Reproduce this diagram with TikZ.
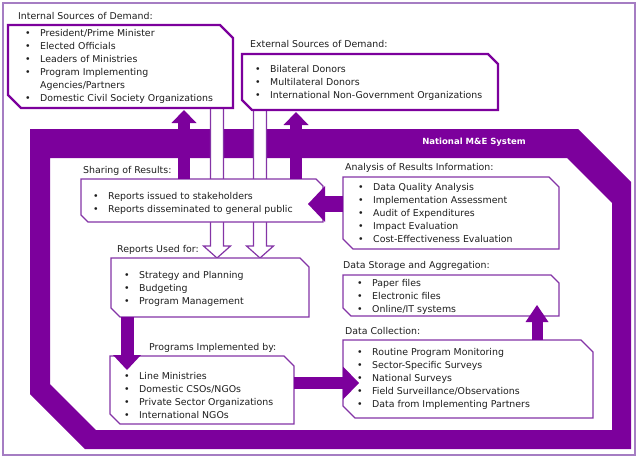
\documentclass[tikz,border=0pt]{standalone}
\usepackage{fontspec}
\setmainfont{DejaVu Sans}
\usetikzlibrary{arrows.meta,calc}

\definecolor{mepurple}{RGB}{124,0,156}
\definecolor{lnpurple}{RGB}{132,52,166}
\definecolor{framepurple}{RGB}{165,125,195}
\definecolor{txt}{RGB}{30,30,30}

\newcommand\itm[1]{\makebox[15pt][l]{\textbullet}\strut#1}
\newcommand\cnt[1]{\hspace*{15pt}\strut#1}
\newcommand\hollowarr[2]{%
  \filldraw[hollow] ($(#1)+(-6.5,0)$) -- ($(#2)+(-6.5,-12)$) -- ($(#2)+(-13.5,-12)$) -- (#2)
    -- ($(#2)+(13.5,-12)$) -- ($(#2)+(6.5,-12)$) -- ($(#1)+(6.5,0)$);}

\begin{document}
\begin{tikzpicture}[x=1pt,y=-1pt,
    box/.style={anchor=north west,inner sep=0,outer sep=0},
    lst/.style={anchor=west,align=left,inner sep=0,text=txt,font=\fontsize{9.4}{13}\selectfont},
    ttl/.style={anchor=west,inner sep=0,text=txt,text height=9.1pt,text depth=3.9pt,font=\fontsize{9.4}{13}\selectfont},
    hollow/.style={draw=lnpurple,fill=white,line width=1.2pt},
    fat/.style={draw=mepurple,line width=#1}]
    \useasboundingbox (0,0) rectangle (640,461);
    \draw[framepurple,line width=2] (3,3) rectangle (635,455);

    % the M&E system band
    \fill[mepurple,even odd rule]
        (30,129) -- (578,129) -- (631,182) -- (631,449) -- (85,449) -- (30,394) -- cycle
        (50,158) -- (567,158) -- (612,203) -- (612,430) -- (96,430) -- (50,384) -- cycle;
    \node[text=white,inner sep=0,font=\bfseries\fontsize{8.5}{10}\selectfont] (nat) at (474,142) {National M\&E System};

    % boxes
    \node[box,minimum width=225,minimum height=83] (int) at (8,25) {};
    \node[box,minimum width=256,minimum height=56] (ext) at (242,54) {};
    \node[box,minimum width=242,minimum height=43] (shr) at (81,179) {};
    \node[box,minimum width=198,minimum height=59] (use) at (111,258) {};
    \node[box,minimum width=216,minimum height=72] (ana) at (343,177) {};
    \node[box,minimum width=216,minimum height=41] (sto) at (343,275) {};
    \node[box,minimum width=250,minimum height=78] (col) at (343,340) {};
    \node[box,minimum width=184,minimum height=68] (prg) at (110,356) {};

    % reports flowing down
    \coordinate (h1) at ($(int.south west)+(209,0)$);
    \coordinate (h1t) at ($(use.north west)+(106,0)$);
    \coordinate (h2) at ($(ext.south west)+(18,0)$);
    \coordinate (h2t) at ($(use.north west)+(149,0)$);
    \hollowarr{h1}{h1t}
    \hollowarr{h2}{h2t}

    \foreach \b/\c/\w/\k in {int/13/2.4/mepurple,ext/10/2.4/mepurple,shr/7/1.2/lnpurple,use/9/1.2/lnpurple,
                             ana/10/1.2/lnpurple,sto/8/1.2/lnpurple,col/12/1.2/lnpurple,prg/10/1.2/lnpurple}
        \filldraw[draw=\k,fill=white,line width=\w pt]
            (\b.north west) -- ($(\b.north east)+(-\c,0)$) -- ($(\b.north east)+(0,\c)$)
            -- (\b.south east) -- ($(\b.south west)+(\c,0)$) -- ($(\b.south west)+(0,-\c)$) -- cycle;

    % titles
    \node[ttl] (intt) at (18,17) {Internal Sources of Demand:};
    \node[ttl] (extt) at (250,45) {External Sources of Demand:};
    \node[ttl] (shrt) at (83,171) {Sharing of Results:};
    \node[ttl] (anat) at (345,168) {Analysis of Results Information:};
    \node[ttl] (uset) at (117,250) {Reports Used for:};
    \node[ttl] (stot) at (343,266) {Data Storage and Aggregation:};
    \node[ttl] (colt) at (345,332) {Data Collection:};
    \node[ttl] (prgt) at (149,348) {Programs Implemented by:};

    % lists
    \node[lst] (intl) at (25,66.5) {\itm{President/Prime Minister}\\ \itm{Elected Officials}\\
        \itm{Leaders of Ministries}\\ \itm{Program Implementing}\\ \cnt{Agencies/Partners}\\
        \itm{Domestic Civil Society Organizations}};
    \node[lst] (extl) at (255,82.5) {\itm{Bilateral Donors}\\ \itm{Multilateral Donors}\\
        \itm{International Non-Government Organizations}};
    \node[lst] (shrl) at (93,203.5) {\itm{Reports issued to stakeholders}\\
        \itm{Reports disseminated to general public}};
    \node[lst] (usel) at (124,288.5) {\itm{Strategy and Planning}\\ \itm{Budgeting}\\ \itm{Program Management}};
    \node[lst] (anal) at (358,213.5) {\itm{Data Quality Analysis}\\ \itm{Implementation Assessment}\\
        \itm{Audit of Expenditures}\\ \itm{Impact Evaluation}\\ \itm{Cost-Effectiveness Evaluation}};
    \node[lst] (stol) at (357,296.5) {\itm{Paper files}\\ \itm{Electronic files}\\ \itm{Online/IT systems}};
    \node[lst] (coll) at (357,379) {\itm{Routine Program Monitoring}\\ \itm{Sector-Specific Surveys}\\
        \itm{National Surveys}\\ \itm{Field Surveillance/Observations}\\ \itm{Data from Implementing Partners}};
    \node[lst] (prgl) at (124,396.5) {\itm{Line Ministries}\\ \itm{Domestic CSOs/NGOs}\\
        \itm{Private Sector Organizations}\\ \itm{International NGOs}};

    % flow arrows
    \draw[fat=12pt,-{Triangle[width=25pt,length=13pt,line width=0pt]}]
        ($(shr.north west)+(103,0)$) -- ($(int.south west)+(176,2)$);
    \draw[fat=12pt,-{Triangle[width=25pt,length=13pt,line width=0pt]}]
        ($(shr.north west)+(215,0)$) -- ($(ext.south west)+(54,2)$);
    \draw[fat=16pt,-{Triangle[width=36pt,length=17pt,line width=0pt]}]
        ($(ana.north west)+(0,27)$) -- ($(shr.north east)+(-15,25)$);
    \draw[fat=13pt,-{Triangle[width=28pt,length=15pt,line width=0pt]}]
        ($(use.south west)+(16,0)$) -- ($(prg.north west)+(17,14)$);
    \draw[fat=12pt,-{Triangle[width=33pt,length=16pt,line width=0pt]}]
        ($(prg.north east)+(0,27)$) -- ($(col.north west)+(16,43)$);
    \draw[fat=11pt,-{Triangle[width=23pt,length=17pt,line width=0pt]}]
        ($(col.north west)+(194,0)$) -- ($(sto.south west)+(194,-11)$);
\end{tikzpicture}
\end{document}
